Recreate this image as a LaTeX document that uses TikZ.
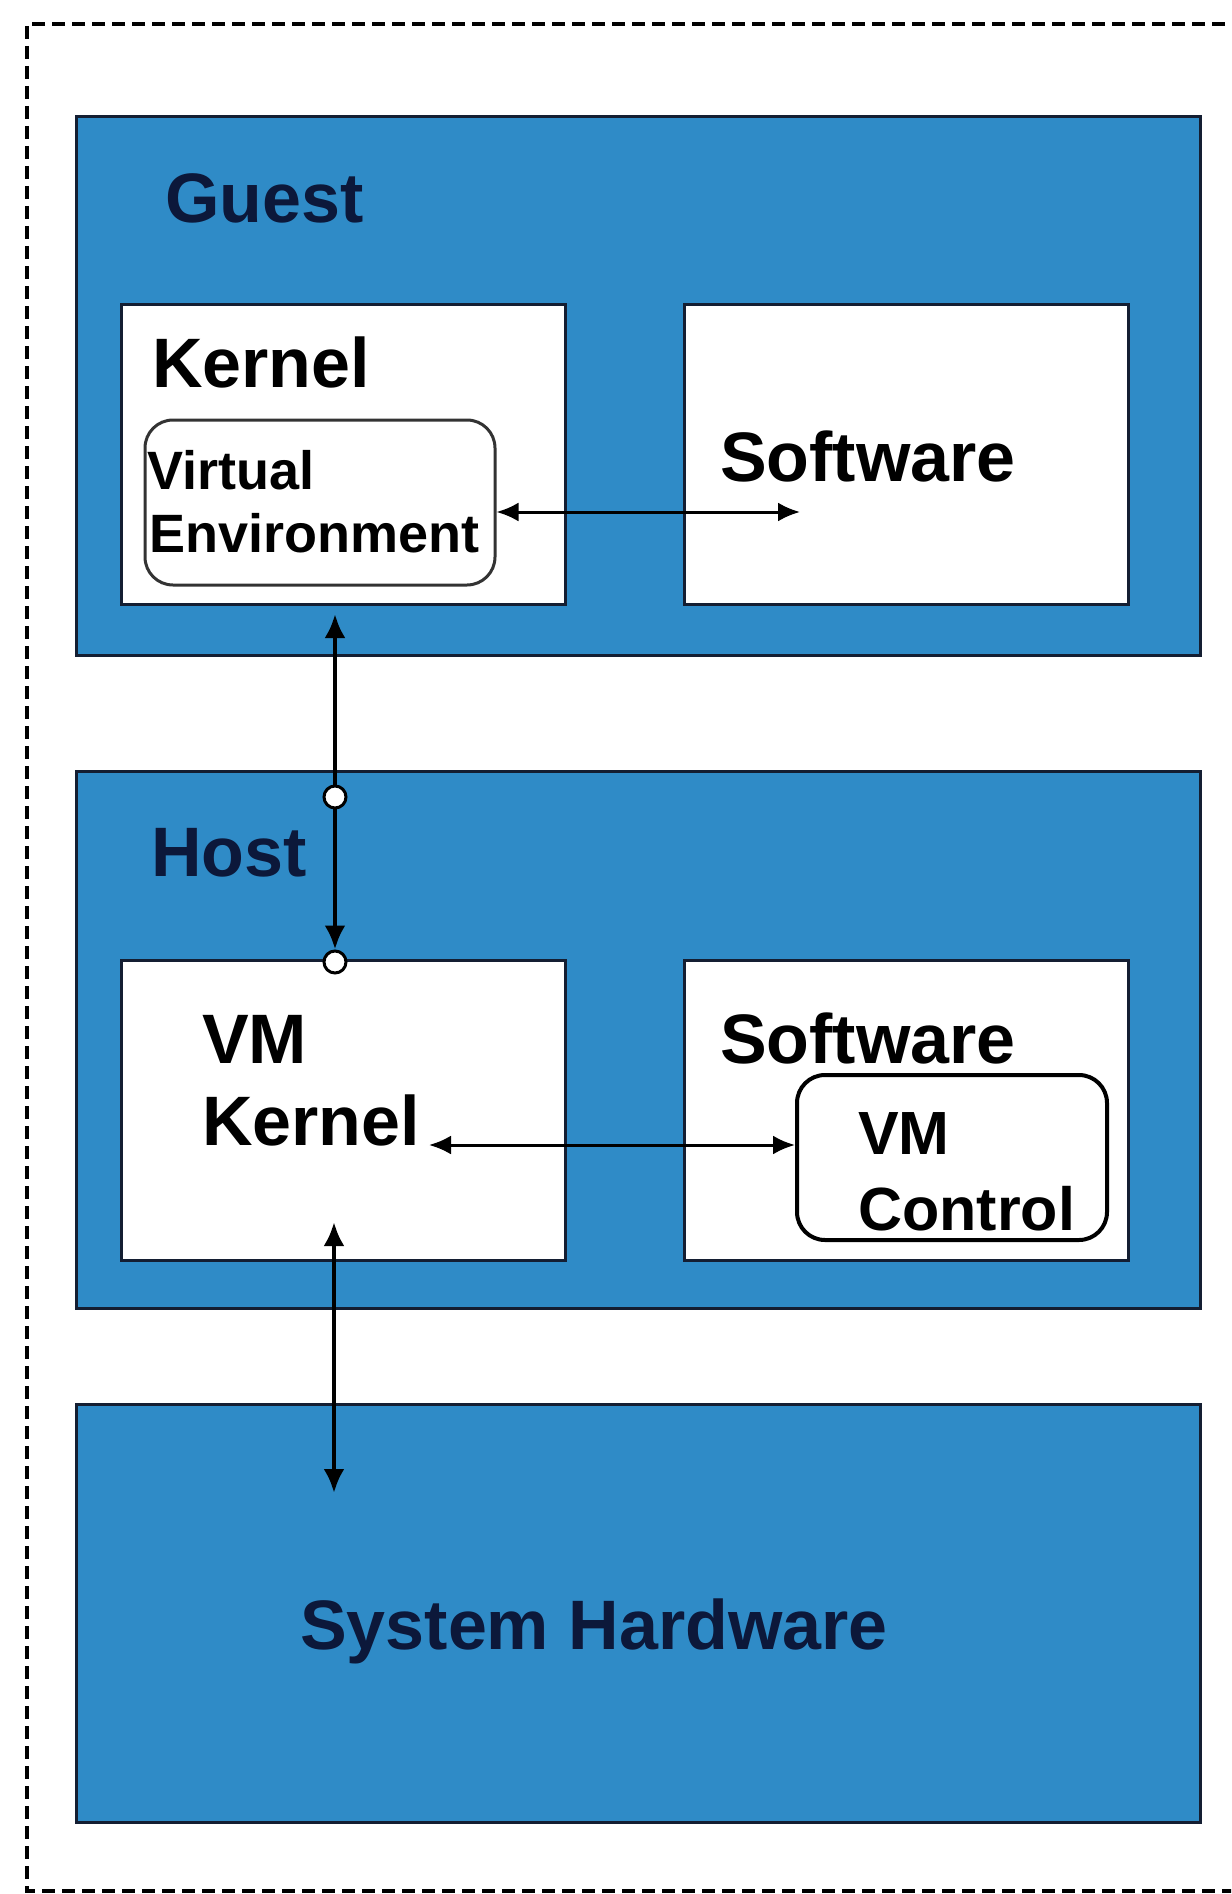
\documentclass[tikz,border=0pt]{standalone}
\usepackage{fontspec}
\setmainfont{Liberation Sans}
\usetikzlibrary{arrows.meta}
\definecolor{boxblue}{RGB}{47,139,199}
\definecolor{edge}{RGB}{20,30,50}
\definecolor{navy}{RGB}{12,24,58}
\begin{document}
\begin{tikzpicture}[x=1pt,y=-1pt,
  bluebox/.style={draw=edge,line width=3pt,fill=boxblue,rectangle,inner sep=0pt},
  whitebox/.style={draw=edge,line width=3pt,fill=white,rectangle,inner sep=0pt},
  roundbox/.style={draw=black!80,line width=3pt,fill=white,rectangle,rounded corners=28pt,inner sep=0pt},
  label/.style={inner sep=0pt,anchor=base west,font=\bfseries\fontsize{70}{80}\selectfont},
  conn/.style={line width=3pt,{Latex[length=22pt,width=19pt]}-{Latex[length=22pt,width=19pt]}},
  vconn/.style={line width=4.5pt,{Latex[length=24pt,width=21pt]}-{Latex[length=24pt,width=21pt]}},
  dot/.style={circle,draw=black,line width=3pt,fill=white,minimum size=22pt,inner sep=0pt}
]
\useasboundingbox (0,0) rectangle (1231,1894);
\clip (0,0) rectangle (1231,1894);
\fill[white] (0,0) rectangle (1231,1894);
\draw[line width=4pt,dash pattern=on 13pt off 7pt] (1245,24) -- (27,24) -- (27,1891) -- (1245,1891);

% Guest
\node[bluebox,minimum width=1124pt,minimum height=538pt] (guest) at (638,386) {};
\node[label,text=navy] (guestlbl) at (165,223) {Guest};
\node[whitebox,minimum width=444pt,minimum height=300pt] (gk) at (343,454) {};
\node[whitebox,minimum width=444pt,minimum height=300pt] (gs) at (906,454) {};
\node[label] (gklbl) at (152,387) {Kernel};
\node[label] (gslbl) at (720,481) {Software};
\node[roundbox,minimum width=350pt,minimum height=165pt] (ve) at (320,502.5) {};
\node[inner sep=0pt,anchor=base west,font=\bfseries\fontsize{54}{60}\selectfont] (vel1) at (147,489) {Virtual};
\node[inner sep=0pt,anchor=base west,font=\bfseries\fontsize{54}{60}\selectfont] (vel2) at (149,552) {Environment};

% Host
\node[bluebox,minimum width=1124pt,minimum height=537pt] (host) at (638,1039.5) {};
\node[label,text=navy] (hostlbl) at (151,876) {Host};
\node[whitebox,minimum width=444pt,minimum height=300pt] (vk) at (343,1110) {};
\node[whitebox,minimum width=444pt,minimum height=300pt] (hs) at (906,1110) {};
\node[label] (vkl1) at (202,1063) {VM};
\node[label] (vkl2) at (202,1145) {Kernel};
\node[label] (hslbl) at (720,1063) {Software};
\node[roundbox,draw=black,line width=4pt,minimum width=310pt,minimum height=165pt] (vmc) at (952,1157.5) {};
\node[inner sep=0pt,anchor=base west,font=\bfseries\fontsize{61}{70}\selectfont] (vmcl1) at (858,1154) {VM};
\node[inner sep=0pt,anchor=base west,font=\bfseries\fontsize{61}{70}\selectfont] (vmcl2) at (858,1230) {Control};

% Hardware
\node[bluebox,minimum width=1124pt,minimum height=418pt] (hw) at (638,1613) {};
\node[label,text=navy] (hwlbl) at (300,1649) {System Hardware};

% connectors
\coordinate (a1r) at (800,512);
\draw[conn] (ve.east |- a1r) -- (a1r);
\coordinate (a2l) at (429,1145);
\draw[conn] (a2l) -- (vmc.west |- a2l);

\coordinate (vtop) at (335,614);
\node[dot] (c2) at (335,962) {};
\draw[vconn] (vtop) -- (c2.north);
\node[dot] (c1) at (335,797) {};

\coordinate (v2top) at (334,1222);
\coordinate (v2bot) at (334,1493);
\draw[vconn] (v2top) -- (v2bot);
\end{tikzpicture}
\end{document}
